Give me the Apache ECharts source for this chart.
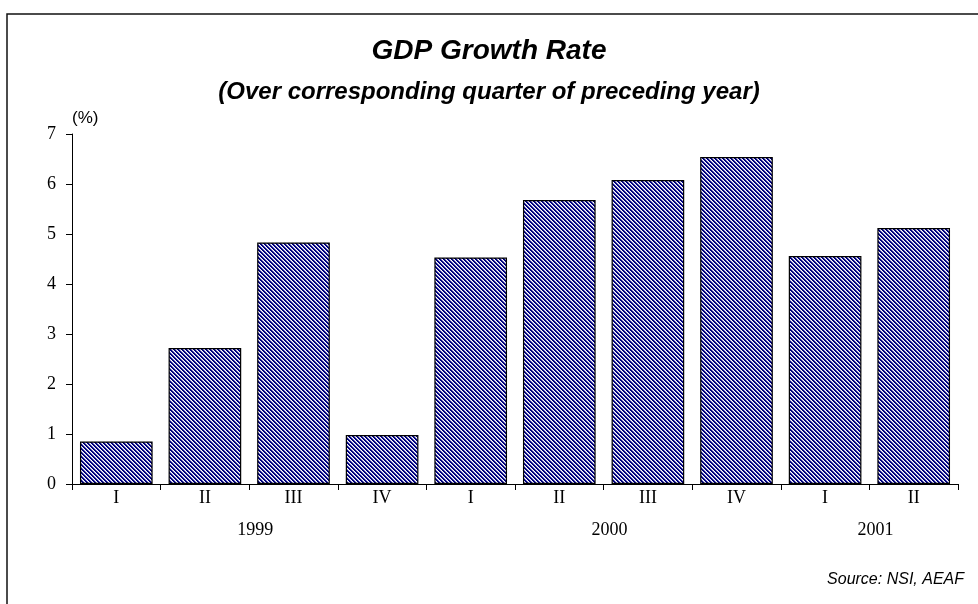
<!DOCTYPE html>
<html>
<head>
<meta charset="utf-8">
<script src="https://cdn.jsdelivr.net/npm/echarts@6/dist/echarts.min.js"></script>
<style>
  html, body { margin: 0; padding: 0; background: #fff; }
  #chart { width: 978px; height: 604px; }
</style>
</head>
<body>
<div id="chart"></div>
<script>
// Quarterly GDP growth, % over the same quarter a year earlier
const quarters = ['I', 'II', 'III', 'IV', 'I', 'II', 'III', 'IV', 'I', 'II'];
const growth = [0.85, 2.72, 4.83, 0.98, 4.53, 5.68, 6.08, 6.54, 4.56, 5.12];
const years = ['1999', '2000', '2001'];
const quartersPerYear = [4, 4, 2];
const yMin = 0, yMax = 7, yStep = 1;

// Small repeating tile with navy downward diagonal stripes
function hatchTile() {
  const c = document.createElement('canvas');
  c.width = 4; c.height = 4;
  const ctx = c.getContext('2d');
  ctx.fillStyle = '#ffffff';
  ctx.fillRect(0, 0, 4, 4);
  for (let y = 0; y < 4; y++) {
    for (let x = 0; x < 4; x++) {
      const k = (((x - y) % 4) + 4) % 4;
      if (k < 2) { ctx.fillStyle = '#000080'; ctx.fillRect(x, y, 1, 1); }
      else if (k === 2) { ctx.fillStyle = '#a3a3d0'; ctx.fillRect(x, y, 1, 1); }
    }
  }
  return c;
}

// Year labels sit on the category boundaries at the middle of each year's group
const yearSlots = new Array(quarters.length + 1).fill('');
let start = 0;
years.forEach((y, i) => {
  yearSlots[start + quartersPerYear[i] / 2] = y;
  start += quartersPerYear[i];
});

const serif = '"Liberation Serif", "Times New Roman", serif';
const sans = '"Liberation Sans", Arial, sans-serif';

const chart = echarts.init(document.getElementById('chart'), null, { renderer: 'canvas' });
chart.setOption({
  animation: false,
  backgroundColor: '#ffffff',
  title: {
    text: 'GDP Growth Rate',
    subtext: '(Over corresponding quarter of preceding year)',
    left: 'center',
    top: 31,
    itemGap: 14,
    textStyle: { fontFamily: sans, fontStyle: 'italic', fontWeight: 'bold', fontSize: 28, color: '#000', lineHeight: 30 },
    subtextStyle: { fontFamily: sans, fontStyle: 'italic', fontWeight: 'bold', fontSize: 24, color: '#000', lineHeight: 24 }
  },
  grid: { left: 72, right: 20, top: 134, bottom: 120 },
  xAxis: [
    {
      type: 'category',
      data: quarters,
      axisLine: { lineStyle: { color: '#000', width: 1 } },
      axisTick: { show: true, alignWithLabel: false, length: 6, lineStyle: { color: '#000' } },
      axisLabel: { interval: 0, color: '#000', fontFamily: serif, fontSize: 18, margin: 5 }
    },
    {
      type: 'category',
      position: 'bottom',
      boundaryGap: false,
      data: yearSlots,
      axisLine: { show: false },
      axisTick: { show: false },
      axisLabel: { interval: 0, color: '#000', fontFamily: serif, fontSize: 18, margin: 37, padding: [0, 0, 0, 12] }
    }
  ],
  yAxis: {
    type: 'value',
    min: yMin, max: yMax, interval: yStep,
    name: '(%)',
    nameLocation: 'end',
    nameGap: 7,
    nameTextStyle: { align: 'left', fontFamily: sans, fontSize: 17, color: '#000' },
    splitLine: { show: false },
    axisLine: { show: true, lineStyle: { color: '#000', width: 1 } },
    axisTick: { show: true, length: 6, lineStyle: { color: '#000' } },
    axisLabel: { color: '#000', fontFamily: serif, fontSize: 18, margin: 16 }
  },
  series: [{
    type: 'bar',
    data: growth,
    barCategoryGap: '18%',
    itemStyle: {
      color: { image: hatchTile(), repeat: 'repeat' },
      borderColor: '#000',
      borderWidth: 1.2
    }
  }],
  graphic: [
    {
      type: 'rect',
      shape: { x: 7, y: 14, width: 1000, height: 1000 },
      style: { fill: 'none', stroke: '#111', lineWidth: 1.5 },
      silent: true
    },
    {
      type: 'text',
      right: 14,
      top: 572,
      style: { text: 'Source: NSI, AEAF', fontFamily: sans, fontStyle: 'italic', fontSize: 16, fill: '#000' },
      silent: true
    }
  ]
});
</script>
</body>
</html>
